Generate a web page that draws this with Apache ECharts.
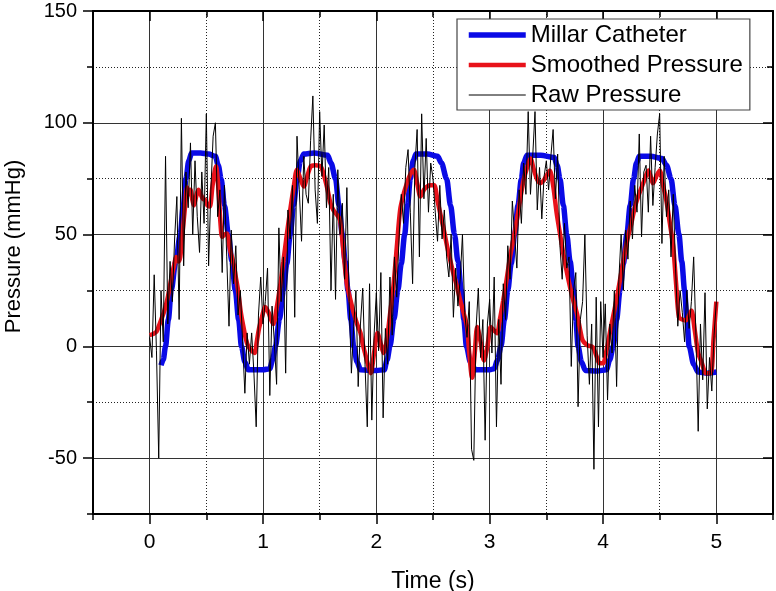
<!DOCTYPE html>
<html><head><meta charset="utf-8">
<script src="https://cdn.jsdelivr.net/npm/echarts@6/dist/echarts.min.js"></script>
<style>html,body{margin:0;padding:0;background:#fff}#c{width:776px;height:591px}</style>
</head><body><div id="c"></div>
<script>
// ---------- data ----------
const xMajorTicks = [0, 1, 2, 3, 4, 5];
const xMinorTicks = [-0.5, 0.5, 1.5, 2.5, 3.5, 4.5, 5.5];
const yMajorTicks = [-50, 0, 50, 100, 150];
const yMinorTicks = [-75, -25, 25, 75, 125];

const millarT = [0.10,0.12,0.14,0.165,0.19,0.23,0.27,0.295,0.32,0.345,0.37,0.45,0.52,0.58,0.605,0.63,0.66,0.695,0.725,0.756,0.785,0.81,0.84,0.87,1.00,1.06,1.085,1.11,1.145,1.18,1.21,1.24,1.27,1.30,1.33,1.36,1.45,1.57,1.60,1.64,1.67,1.70,1.725,1.75,1.775,1.80,1.83,1.86,2.00,2.07,2.095,2.12,2.155,2.19,2.22,2.25,2.275,2.30,2.325,2.35,2.45,2.54,2.575,2.62,2.655,2.69,2.72,2.75,2.772,2.795,2.83,2.875,3.00,3.04,3.07,3.10,3.13,3.16,3.19,3.22,3.25,3.28,3.30,3.33,3.45,3.57,3.595,3.62,3.65,3.68,3.71,3.74,3.76,3.78,3.81,3.845,3.95,4.03,4.06,4.09,4.12,4.15,4.18,4.21,4.24,4.27,4.295,4.32,4.42,4.52,4.56,4.60,4.635,4.67,4.695,4.72,4.74,4.76,4.80,4.84,4.92,5.00];
const millarP = [-8.5,-6,0,12,25,38,50,62,75,83,86.5,86.5,86,85,81,75,63,50,38,25,12,0,-7,-10.5,-10.5,-10,-6,0,12,25,37,50,63,75,83,86,86.5,85.5,82,75,63,50,38,25,12,0,-7,-10.5,-10.8,-10.5,-6,0,12,25,37,50,63,75,83,86,86,85,82,75,63,50,38,25,12,0,-7,-10.5,-10.5,-10,-6,0,12,25,37,50,63,75,82,85.5,85.5,84.5,81,75,63,50,38,25,12,0,-7,-10.8,-11,-10.5,-6,0,12,25,37,50,63,75,82,85,85,84,81,75,63,50,38,25,12,0,-8,-11.5,-12,-11.5];

const smoothT = [0.00,0.03,0.06,0.08,0.10,0.13,0.16,0.19,0.215,0.235,0.255,0.27,0.285,0.30,0.315,0.33,0.345,0.36,0.375,0.39,0.41,0.43,0.45,0.47,0.49,0.51,0.53,0.555,0.585,0.61,0.625,0.64,0.66,0.68,0.71,0.74,0.76,0.78,0.805,0.83,0.85,0.87,0.90,0.925,0.945,0.965,0.99,1.02,1.05,1.07,1.09,1.12,1.15,1.18,1.21,1.24,1.27,1.30,1.33,1.36,1.39,1.42,1.46,1.51,1.54,1.57,1.595,1.62,1.65,1.68,1.71,1.74,1.77,1.80,1.83,1.86,1.88,1.90,1.925,1.95,1.98,2.01,2.04,2.065,2.09,2.12,2.15,2.18,2.21,2.24,2.27,2.30,2.33,2.36,2.39,2.42,2.45,2.48,2.51,2.54,2.57,2.60,2.625,2.65,2.68,2.71,2.74,2.77,2.80,2.82,2.845,2.87,2.89,2.92,2.95,2.98,3.01,3.04,3.065,3.09,3.12,3.15,3.18,3.21,3.24,3.27,3.30,3.33,3.36,3.39,3.42,3.45,3.48,3.51,3.53,3.56,3.59,3.62,3.655,3.69,3.73,3.77,3.80,3.82,3.86,3.91,3.94,3.97,4.00,4.03,4.07,4.10,4.13,4.16,4.19,4.22,4.25,4.28,4.31,4.34,4.37,4.40,4.42,4.44,4.47,4.50,4.53,4.56,4.59,4.62,4.645,4.67,4.70,4.73,4.76,4.78,4.81,4.84,4.87,4.91,4.95,4.975,5.00];
const smoothP = [5,5.5,6.5,9,11.7,16,22,30,36,40,38,40,48,56,64,71,68,70,66,63,67,70,68,66,65.5,63,62.5,72,80.5,68,55,49,50,50.5,43,37,31,25,15,8,3,0,-2,-3,2,8,13,17.6,15,12,10,17,26.6,38,50,61,71,79,75,71.5,76,80.4,81,80.4,76,70,64,61,59,56.5,42,28,21,15,10,6,1,-3,-8,-12,-3,6,1,-3,2,14,26.6,44,61,68,73,77,79,73,67,70,71.5,72,72,65,58,51,44.6,39,32.6,27,20.6,15,8.7,-3,-14,-2,8.7,2,-6.3,0,8.7,7,5.9,12,20.6,30,40,48,56.5,66,74.5,80,84,79,74.5,73,74.5,77,78.7,72,60,50.5,40,31,22,14.7,7,2.7,0.5,-0.4,-4,-7.6,-7.6,-2,8.6,16,24,32.6,41,49,55,62,67,71,75,78.7,76,72.9,76,78.7,72,65,55,44.4,28,13,12,11.6,14,16,7,-3,-7,-12,-12,3,20];

const rawStep = 0.02; // sample spacing of the raw record (s)
const rawP = [
  4,-5,32,-2,-50,   25,2,85,10,38,    20,48,67,12,102,  36,78,62,91,50,   83,58,42,78,55,
  104,36,70,94,100, 58,70,33,72,40,   9,52,28,45,14,    25,2,-21,6,-8,    6,-12,-36,14,31,
  10,20,35,-22,18,  2,-17,53,20,40,   -12,61,48,72,13,  94,70,47,85,68,   64,92,112,70,55,
  105,76,99,62,80,  25,68,21,79,50,   64,30,71,20,-12,  9,25,-18,10,26,   -8,-36,28,-33,5,
  24,-2,33,-32,8,   -8,31,5,40,22,    48,68,55,80,88,   60,28,80,97,40,   104,66,93,60,82,
  75,60,47,72,48,   61,40,31,50,13,   35,18,30,50,15,   4,20,-46,-51,8,   26,-5,12,-42,10,
  21,-3,31,-36,12,  -17,28,12,45,30,  65,50,35,70,55,   82,68,105,68,85,  105,61,80,57,76,
  83,70,85,97,66,   86,45,30,55,35,   40,-9,25,33,-27,  12,20,50,5,-17,   10,-55,22,-36,20,
  -5,19,-24,10,-3,  25,-18,30,50,25,  52,39,65,48,72,   60,95,49,78,81,   60,94,63,80,95,
  104,46,85,58,70,  40,68,35,9,25,    15,2,25,8,20,     40,5,-38,10,-15,  24,-28,-5,-20,5,
  20
];

// ---------- chart ----------
const FONT = '"Liberation Sans", Arial, sans-serif';
const zip = (t, v) => t.map((x, i) => [x, v[i]]);
const rawData = rawP.map((v, i) => [Math.round(i * rawStep * 100) / 100, v]);
const gridCol = '#333';
const X = {min: -0.5, max: 5.5}, Y = {min: -75, max: 150};

function xAx(pos, ticks, len, inside, opts) {
  return Object.assign({
    type: 'value', position: pos, min: X.min, max: X.max,
    axisLine: {show: false, onZero: false},
    axisTick: {show: true, inside: inside, length: len, customValues: ticks, lineStyle: {color: '#000', width: 1.5}},
    axisLabel: {show: false, customValues: ticks},
    splitLine: {show: false}
  }, opts || {});
}
function yAx(pos, ticks, len, inside, opts) {
  return Object.assign({
    type: 'value', position: pos, min: Y.min, max: Y.max,
    axisLine: {show: false, onZero: false},
    axisTick: {show: true, inside: inside, length: len, customValues: ticks, lineStyle: {color: '#000', width: 1.5}},
    axisLabel: {show: false, customValues: ticks},
    splitLine: {show: false}
  }, opts || {});
}

const chart = echarts.init(document.getElementById('c'));
chart.setOption({
  animation: false,
  backgroundColor: '#fff',
  textStyle: {fontFamily: FONT},
  grid: {left: 93, right: 3, top: 11, bottom: 77, containLabel: false, outerBoundsMode: 'none'},
  xAxis: [
    xAx('bottom', xMajorTicks, 10, false, {
      axisLine: {show: true, onZero: false, lineStyle: {color: '#000', width: 2}},
      axisLabel: {show: true, customValues: xMajorTicks, fontSize: 21, color: '#000', margin: 18, fontFamily: FONT},
      splitLine: {show: true, lineStyle: {color: gridCol, width: 1}},
      name: 'Time (s)', nameLocation: 'middle', nameGap: 56,
      nameTextStyle: {fontSize: 23, color: '#000', fontFamily: FONT}
    }),
    xAx('bottom', xMinorTicks, 6, false, {
      splitLine: {show: true, lineStyle: {color: '#222', width: 1, type: [1, 2]}}
    }),
    xAx('top', xMajorTicks, 10, true, {
      axisLine: {show: true, onZero: false, lineStyle: {color: '#000', width: 2}}
    }),
    xAx('top', xMinorTicks, 6, true)
  ],
  yAxis: [
    yAx('left', yMajorTicks, 10, false, {
      axisLine: {show: true, onZero: false, lineStyle: {color: '#000', width: 2}},
      axisLabel: {show: true, customValues: yMajorTicks, fontSize: 20, color: '#000', margin: 16, fontFamily: FONT},
      splitLine: {show: true, lineStyle: {color: gridCol, width: 1}},
      name: 'Pressure (mmHg)', nameLocation: 'middle', nameGap: 68,
      nameTextStyle: {fontSize: 22, color: '#000', fontFamily: FONT, padding: [0, 0, 0, 32]}
    }),
    yAx('left', yMinorTicks, 6, false, {
      splitLine: {show: true, lineStyle: {color: '#222', width: 1, type: [1, 2]}}
    }),
    yAx('right', yMajorTicks, 10, true, {
      axisLine: {show: true, onZero: false, lineStyle: {color: '#000', width: 2}}
    }),
    yAx('right', yMinorTicks, 6, true)
  ],
  legend: {
    orient: 'vertical', left: 457, top: 19,
    padding: [4, 7, 3, 9], itemGap: 6, itemWidth: 57, itemHeight: 14,
    backgroundColor: '#fff', borderColor: '#444', borderWidth: 1.2,
    itemStyle: {opacity: 0},
    lineStyle: {width: 'inherit'},
    textStyle: {fontSize: 24, color: '#000', fontFamily: FONT},
    data: ['Millar Catheter', 'Smoothed Pressure', 'Raw Pressure']
  },
  series: [
    {name: 'Millar Catheter', type: 'line', symbol: 'none', smooth: 0.3, smoothMonotone: 'x',
     data: zip(millarT, millarP), lineStyle: {color: '#0a0ae6', width: 5.5}, itemStyle: {color: '#0a0ae6'}, z: 3},
    {name: 'Smoothed Pressure', type: 'line', symbol: 'none', smooth: 0.3,
     data: zip(smoothT, smoothP), lineStyle: {color: '#e8121a', width: 4.5}, itemStyle: {color: '#e8121a'}, z: 4},
    {name: 'Raw Pressure', type: 'line', symbol: 'none',
     data: rawData, lineStyle: {color: '#000', width: 1}, itemStyle: {color: '#000'}, z: 5}
  ]
});
</script></body></html>
